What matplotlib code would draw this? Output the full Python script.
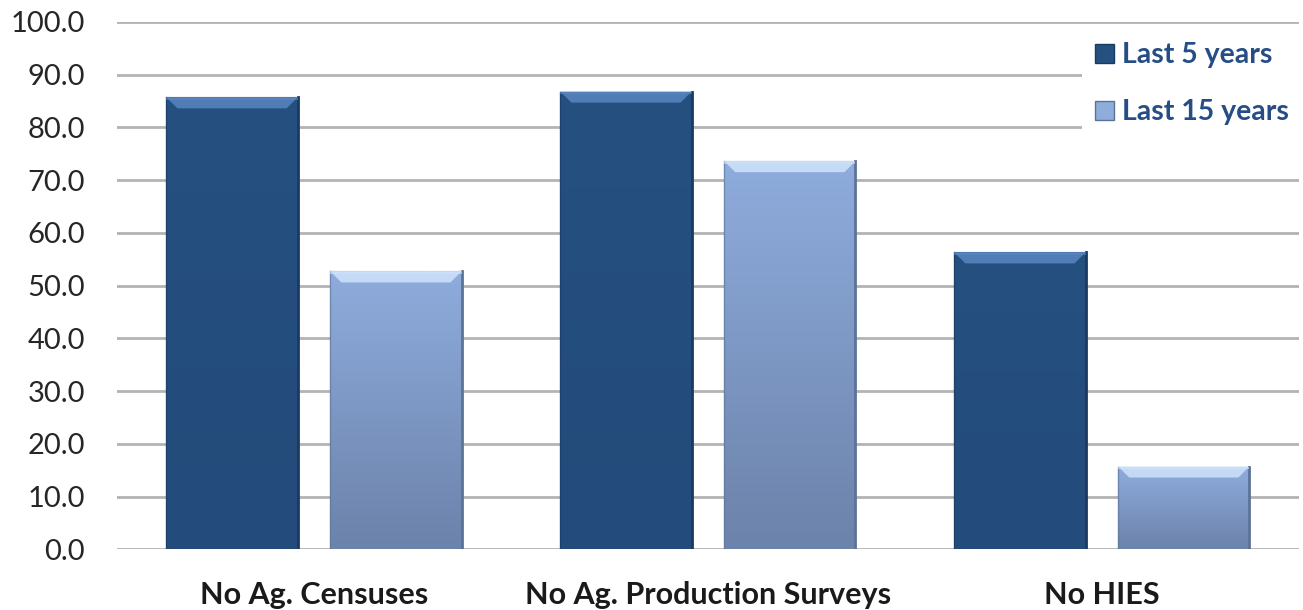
import numpy as np
import matplotlib
matplotlib.use("Agg")
import matplotlib.pyplot as plt
from matplotlib.patches import Patch, Polygon
from matplotlib.colors import LinearSegmentedColormap

categories = ["No Ag. Censuses", "No Ag. Production Surveys", "No HIES"]
series_names = ["Last 5 years", "Last 15 years"]
last5 = [85.7, 86.8, 56.3]
last15 = [52.7, 73.6, 15.7]
yticks = [0, 10, 20, 30, 40, 50, 60, 70, 80, 90, 100]

plt.rcParams['font.family'] = ['Lato', 'DejaVu Sans']

fig = plt.figure(figsize=(13.03, 6.10), dpi=100)
ax = fig.add_axes([0.0898, 0.0995, 0.907, 0.8645])

x = np.arange(len(categories))
w = 0.333
off = 0.208

# colours: (top of gradient, bottom of gradient, bevel, edge)
styles = [
    ("#25507f", "#234b7b", "#5a86c2", "#1b3a63"),
    ("#8eacdc", "#6c83ab", "#cfe3fa", "#5d7396"),
]

ax.set_xlim(-0.5, 2.5)
ax.set_ylim(0, 100)

# px -> data sizes for the bevel
bev_y = 100 / 527.0 * 11
bev_x = 3 / 1182.0 * 11

for vals, sgn, st in [(last5, -1, styles[0]), (last15, 1, styles[1])]:
    bars = ax.bar(x + sgn * off, vals, width=w, color=st[0], zorder=3,
                  edgecolor=st[3], linewidth=0.8)
    cmap = LinearSegmentedColormap.from_list("g", [st[1], st[0]])
    for b in bars:
        bx, by = b.get_x(), b.get_y()
        bw, bh = b.get_width(), b.get_height()
        grad = np.linspace(0, 1, 100).reshape(-1, 1)
        im = ax.imshow(grad, extent=[bx, bx + bw, by, by + bh], origin="lower",
                       cmap=cmap, aspect="auto", zorder=3.5)
        im.set_clip_path(b)
        # top bevel
        top = by + bh
        poly = Polygon([[bx, top], [bx + bw, top], [bx + bw - bev_x, top - bev_y],
                        [bx + bev_x, top - bev_y]], closed=True,
                       facecolor=st[2], edgecolor="none", alpha=0.85, zorder=4)
        ax.add_patch(poly)
        # darker side edges
        ax.plot([bx + bw, bx + bw], [by, top], color=st[3], lw=2.0, zorder=4.5)
        ax.plot([bx, bx], [by, top], color=st[3], lw=1.0, alpha=0.6, zorder=4.5)
        ax.add_patch(Polygon([[bx, top], [bx + bw, top], [bx + bw, top - bev_y * 0.25],
                              [bx, top - bev_y * 0.25]], closed=True,
                             facecolor=st[2], edgecolor="none", alpha=0.6, zorder=4.6))

ax.set_yticks(yticks)
ax.set_yticklabels(["%.1f" % v for v in yticks], fontsize=21, color="#262626")
ax.set_xticks(x)
ax.set_xticklabels(categories, fontsize=22, fontweight="bold", color="#1a1a1a")
ax.tick_params(axis="both", length=0)
ax.tick_params(axis="y", pad=23)
ax.tick_params(axis="x", pad=23)

ax.yaxis.grid(True, color="#b3b3b3", linewidth=2.0, zorder=0)
ax.set_axisbelow(True)
for s in ax.spines.values():
    s.set_visible(False)

handles = [Patch(facecolor=styles[0][0], edgecolor=styles[0][3]),
           Patch(facecolor=styles[1][0], edgecolor=styles[1][3])]
leg = fig.legend(handles, series_names, loc="upper left",
                 bbox_to_anchor=(1068 / 1303, 1 - 15 / 610),
                 frameon=True, handlelength=0.65, handleheight=0.65,
                 handletextpad=0.3, labelspacing=1.1, borderpad=0.45,
                 prop={"weight": "bold", "size": 20.5})
leg.get_frame().set_facecolor("white")
leg.get_frame().set_edgecolor("none")
leg.get_frame().set_alpha(1)
leg.set_zorder(10)
for t in leg.get_texts():
    t.set_color("#264d85")

fig.savefig("out.png", dpi=100)
